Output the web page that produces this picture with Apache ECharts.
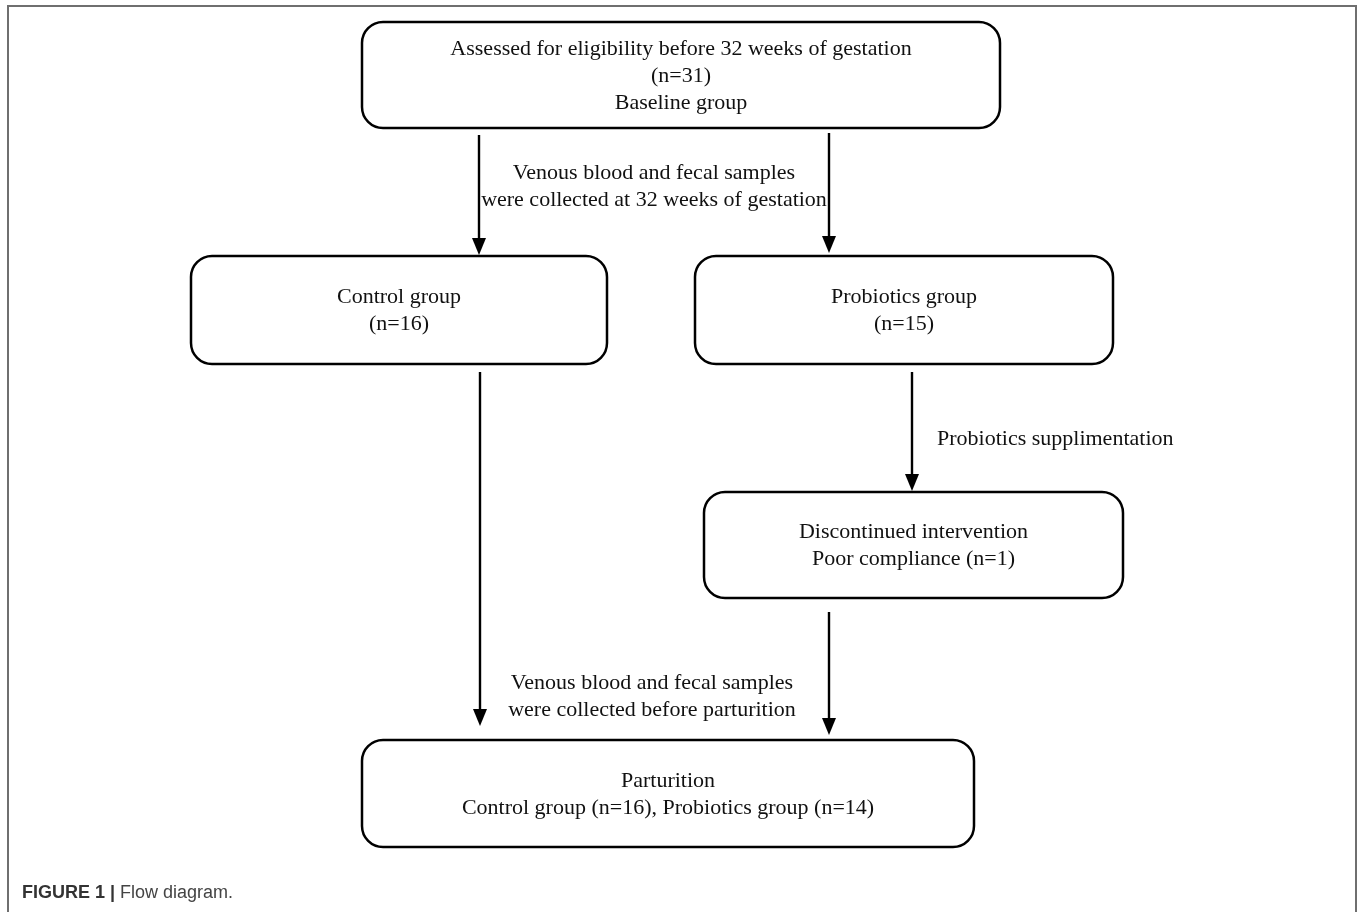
<!DOCTYPE html>
<html>
<head>
<meta charset="utf-8">
<script src="https://cdn.jsdelivr.net/npm/echarts@6/dist/echarts.min.js"></script>
<style>
html,body{margin:0;padding:0;background:#fff;}
#chart{width:1358px;height:912px;}
</style>
</head>
<body>
<div id="chart"></div>
<script>
// ---- Diagram content ----
const boxLabels = [
  'Assessed for eligibility before 32 weeks of gestation\n(n=31)\nBaseline group',
  'Control group\n(n=16)',
  'Probiotics group\n(n=15)',
  'Discontinued intervention\nPoor compliance (n=1)',
  'Parturition\nControl group (n=16), Probiotics group (n=14)'
];
// box extents in diagram units: [left, top, right, bottom]
const boxExtents = [
  [362, 22, 1000, 128],
  [191, 256, 607, 364],
  [695, 256, 1113, 364],
  [704, 492, 1123, 598],
  [362, 740, 974, 847]
];
// arrows: [x start, y start, x tip, y tip]
const arrowPaths = [
  [479, 135, 479, 255],
  [829, 133, 829, 253],
  [480, 372, 480, 726],
  [912, 372, 912, 491],
  [829, 612, 829, 735]
];
const edgeLabels = [
  'Venous blood and fecal samples\nwere collected at 32 weeks of gestation',
  'Probiotics supplimentation',
  'Venous blood and fecal samples\nwere collected before parturition'
];
// label anchors: [x, y, align]
const edgeLabelAnchors = [
  [654, 187, 'center'],
  [937, 439, 'left'],
  [652, 697, 'center']
];
const captionBold = 'FIGURE 1 |';
const captionText = 'Flow diagram.';

const SERIF = '"Liberation Serif", "Times New Roman", serif';
const SANS = '"Liberation Sans", Arial, sans-serif';
const chart = echarts.init(document.getElementById('chart'), null, {renderer: 'canvas'});

const boxData = boxExtents.map((b, i) => [b[0], b[1], b[2], b[3], i]);
const arrowData = arrowPaths.map(a => a.slice());
const labelData = edgeLabelAnchors.map((a, i) => [a[0], a[1], i]);

chart.setOption({
  animation: false,
  backgroundColor: '#fff',
  grid: {left: 0, right: 0, top: 0, bottom: 0},
  xAxis: {type: 'value', min: 0, max: 1358, show: false},
  yAxis: {type: 'value', min: 0, max: 912, inverse: true, show: false},
  title: {
    left: 22, top: 884, padding: 0,
    text: '{b|' + captionBold + '} {r|' + captionText + '}',
    textStyle: {
      fontWeight: 'normal',
      rich: {
        b: {fontFamily: SANS, fontWeight: 'bold', fontSize: 18, color: '#333'},
        r: {fontFamily: SANS, fontWeight: 'normal', fontSize: 18, color: '#444'}
      }
    }
  },
  graphic: [{
    type: 'rect', silent: true,
    shape: {x: 8, y: 6, width: 1348, height: 950},
    style: {fill: 'none', stroke: '#6f6f6f', lineWidth: 2}
  }],
  series: [
    {
      type: 'custom', coordinateSystem: 'cartesian2d', clip: false, silent: true,
      data: boxData,
      renderItem: function (params, api) {
        const p0 = api.coord([api.value(0), api.value(1)]);
        const p1 = api.coord([api.value(2), api.value(3)]);
        const idx = api.value(4);
        return {
          type: 'group',
          children: [
            {type: 'rect', shape: {x: p0[0], y: p0[1], width: p1[0] - p0[0], height: p1[1] - p0[1], r: 21},
             style: {fill: '#fff', stroke: '#000', lineWidth: 2.5}},
            {type: 'text', style: {text: boxLabels[idx], x: (p0[0] + p1[0]) / 2, y: (p0[1] + p1[1]) / 2 + 1,
             align: 'center', verticalAlign: 'middle', font: '22px ' + SERIF, fill: '#111', lineHeight: 27}}
          ]
        };
      }
    },
    {
      type: 'custom', coordinateSystem: 'cartesian2d', clip: false, silent: true,
      data: arrowData,
      renderItem: function (params, api) {
        const s = api.coord([api.value(0), api.value(1)]);
        const t = api.coord([api.value(2), api.value(3)]);
        const head = 17, half = 7;
        return {
          type: 'group',
          children: [
            {type: 'line', shape: {x1: s[0], y1: s[1], x2: t[0], y2: t[1] - head + 2},
             style: {stroke: '#000', lineWidth: 2.4}},
            {type: 'polygon', shape: {points: [[t[0], t[1]], [t[0] - half, t[1] - head], [t[0] + half, t[1] - head]]},
             style: {fill: '#000'}}
          ]
        };
      }
    },
    {
      type: 'custom', coordinateSystem: 'cartesian2d', clip: false, silent: true,
      data: labelData,
      renderItem: function (params, api) {
        const p = api.coord([api.value(0), api.value(1)]);
        const idx = api.value(2);
        return {
          type: 'text',
          style: {text: edgeLabels[idx], x: p[0], y: p[1], align: edgeLabelAnchors[idx][2],
                  verticalAlign: 'middle', font: '22px ' + SERIF, fill: '#111', lineHeight: 27}
        };
      }
    }
  ]
});
</script>
</body>
</html>
